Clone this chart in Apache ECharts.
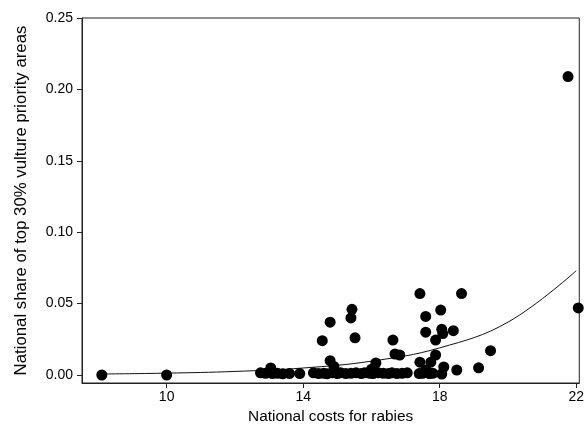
<!DOCTYPE html>
<html>
<head>
<meta charset="utf-8">
<script src="https://cdn.jsdelivr.net/npm/echarts@6/dist/echarts.min.js"></script>
<style>html,body{margin:0;padding:0;background:#fff}#c{width:587px;height:432px}</style>
</head>
<body>
<div id="c"></div>
<script>
const xTicks = [10, 14, 18, 22];
const yTicks = [0, 0.05, 0.10, 0.15, 0.20, 0.25];
const countryCosts = [
  8.1, 10.0,
  12.75, 12.9, 13.05, 13.1, 13.25, 13.4, 13.6, 13.9,
  14.3, 14.45, 14.6, 14.7, 14.85, 15.0, 15.1, 15.25, 15.4, 15.55, 15.7, 15.8, 15.95, 16.05, 16.2, 16.35, 16.5, 16.6, 16.75, 16.9, 17.05, 17.4, 17.5, 17.7,
  14.56, 14.79, 15.43, 15.4, 15.52, 14.79, 14.9, 16.0, 16.13, 16.63, 16.69, 16.83,
  17.42, 17.59, 18.03, 18.64, 17.59, 18.06, 18.09, 18.4, 17.88, 17.74, 17.88, 17.42, 17.59, 18.12, 18.06, 18.5, 17.8, 17.65,
  19.14, 19.49, 22.06, 21.76
];
const vultureShare = [
  0.000, 0.000,
  0.0015, 0.0012, 0.0049, 0.0010, 0.0012, 0.0008, 0.0010, 0.0010,
  0.0015, 0.0010, 0.0012, 0.0008, 0.0015, 0.0010, 0.0015, 0.0010, 0.0012, 0.0015, 0.0010, 0.0015, 0.0012, 0.0010, 0.0015, 0.0012, 0.0010, 0.0015, 0.0010, 0.0012, 0.0015, 0.0010, 0.0012, 0.0010,
  0.024, 0.037, 0.046, 0.040, 0.026, 0.010, 0.006, 0.004, 0.0084, 0.0245, 0.0147, 0.014,
  0.057, 0.041, 0.0455, 0.057, 0.030, 0.032, 0.029, 0.031, 0.0245, 0.009, 0.014, 0.009, 0.0035, 0.0056, 0.0007, 0.0035, 0.0012, 0.0020,
  0.005, 0.017, 0.047, 0.209
];
const fitX = [8.1, 10, 12, 14, 16, 18, 20, 22];
const fitY = [0.0007, 0.0013, 0.0025, 0.0049, 0.0097, 0.019, 0.037, 0.073];

const points = countryCosts.map((x, i) => [x, vultureShare[i]]);
const fit = fitX.map((x, i) => [x, fitY[i]]);

const font = 'Liberation Sans, Arial, sans-serif';
const chart = echarts.init(document.getElementById('c'), null, {renderer: 'canvas'});
chart.setOption({
  animation: false,
  backgroundColor: '#fff',
  grid: {left: 82, right: 4, top: 18, bottom: 49, show: true, borderColor: '#222', borderWidth: 1, backgroundColor: 'transparent'},
  xAxis: {
    type: 'value', min: 7.52, max: 22.09,
    name: 'National costs for rabies', nameLocation: 'middle', nameGap: 24,
    nameTextStyle: {fontFamily: font, fontSize: 15.4, color: '#000'},
    axisLine: {show: true, onZero: false, lineStyle: {color: '#222', width: 1}},
    axisTick: {show: true, length: 5, customValues: xTicks, lineStyle: {color: '#222'}},
    axisLabel: {customValues: xTicks, fontFamily: font, fontSize: 14, color: '#000', margin: 7},
    splitLine: {show: false}
  },
  yAxis: {
    type: 'value', min: -0.0056, max: 0.25,
    name: 'National share of top 30% vulture priority areas', nameLocation: 'middle', nameGap: 52,
    nameTextStyle: {fontFamily: font, fontSize: 16.8, color: '#000'},
    axisLine: {show: true, onZero: false, lineStyle: {color: '#222', width: 1}},
    axisTick: {show: true, length: 5, customValues: yTicks, lineStyle: {color: '#222'}},
    axisLabel: {customValues: yTicks, fontFamily: font, fontSize: 14, color: '#000', margin: 9, formatter: v => v.toFixed(2)},
    splitLine: {show: false}
  },
  series: [
    {type: 'scatter', data: points, symbolSize: 11, itemStyle: {color: '#000', opacity: 1}, z: 3},
    {type: 'line', data: fit, smooth: 0.4, showSymbol: false, symbol: 'none', lineStyle: {color: '#111', width: 1}, z: 2}
  ]
});
</script>
</body>
</html>
